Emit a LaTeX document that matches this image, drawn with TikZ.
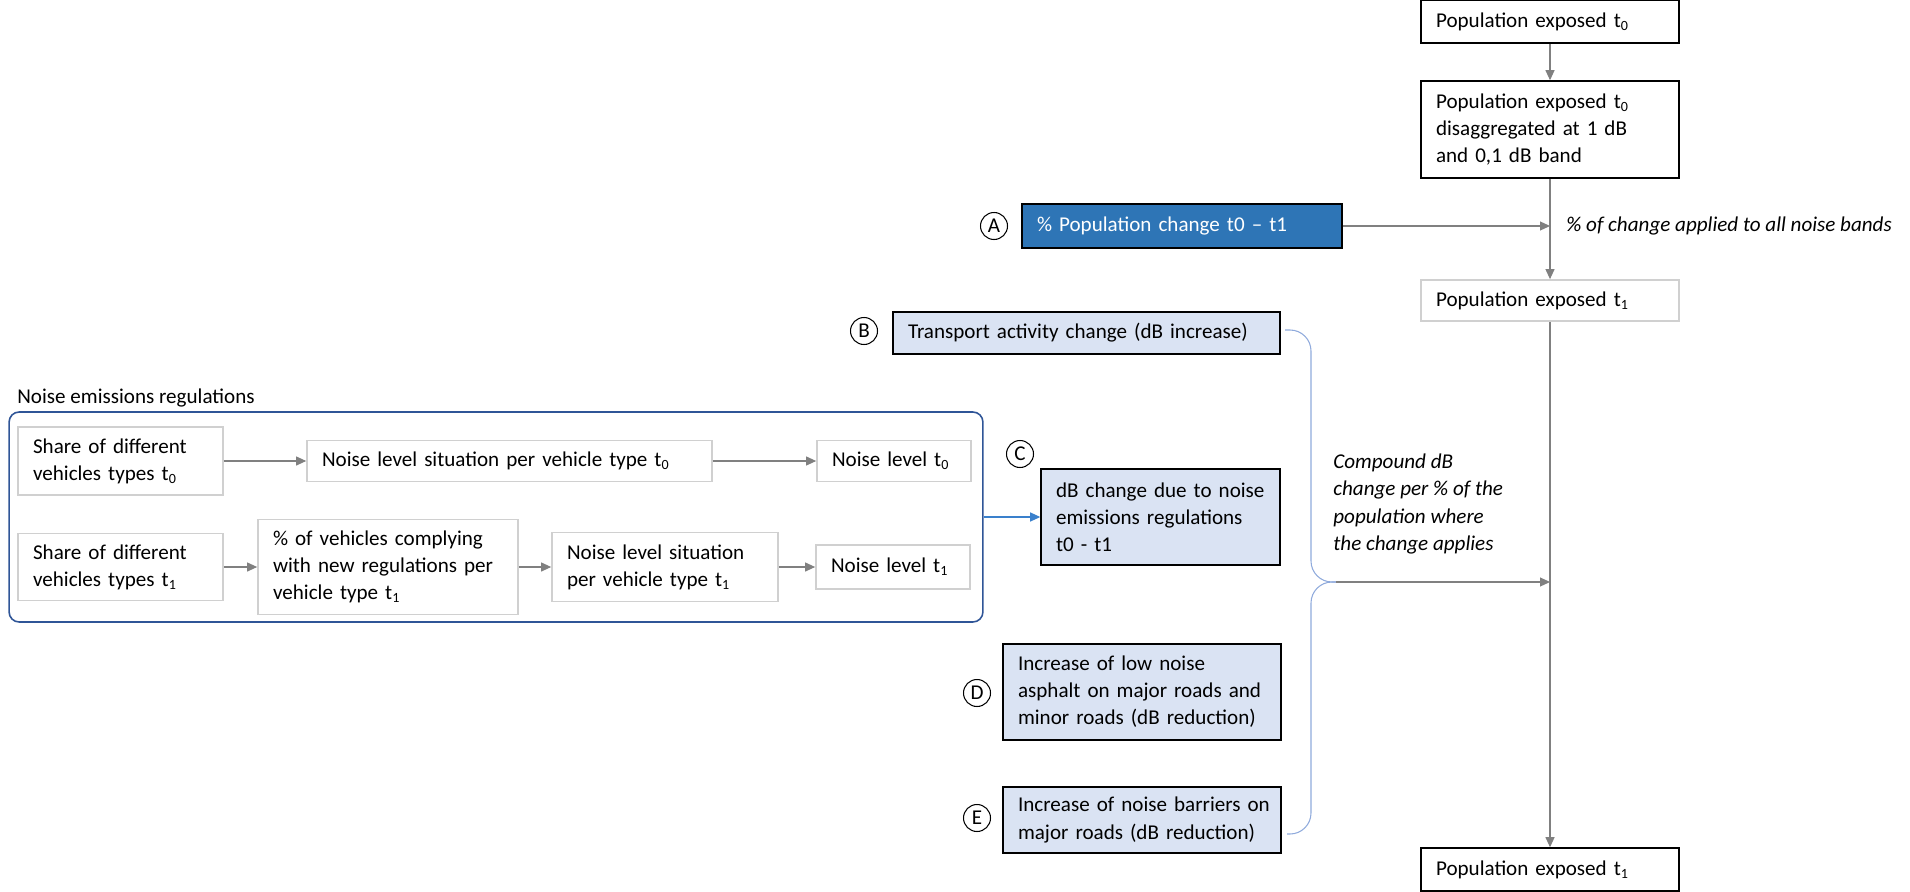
\documentclass[tikz,border=0pt]{standalone}
\usepackage{fontspec}
\setmainfont{Carlito}
\usepackage{tikz}
\usepackage{xcolor}
\usetikzlibrary{arrows.meta}

\definecolor{boxblue}{HTML}{2E75B6}
\definecolor{paleblue}{HTML}{DAE3F3}
\definecolor{frameblue}{HTML}{2F5597}
\definecolor{bracecol}{HTML}{8FAADC}
\definecolor{arrowgray}{HTML}{808080}
\definecolor{lightframe}{HTML}{D0D0D0}
\definecolor{linkblue}{HTML}{3A80CC}

\begin{document}
\begin{tikzpicture}[x=0.02cm, y=-0.02cm,
  every node/.style={font=\fontsize{12}{15.4}\selectfont},
  box/.style={draw, line width=0.9pt, align=left, inner xsep=0.3cm, inner ysep=0pt},
  greybox/.style={box, draw=lightframe, line width=1pt},
  inbox/.style={box, fill=paleblue},
  sz/.style n args={2}{text width=#1, minimum height=#2},
  letter/.style={draw, circle, line width=0.6pt, minimum size=0.54cm, inner sep=0pt},
  arr/.style={draw=arrowgray, line width=0.6pt, -{Triangle[length=0.2cm, width=0.18cm]}, arrowgray},
  link/.style={draw=linkblue, line width=0.6pt, -{Triangle[length=0.2cm, width=0.18cm]}, linkblue},
  brace/.style={draw=bracecol, line width=0.6pt, rounded corners=0.42cm},
  note/.style={anchor=west, align=left, inner sep=0pt, font=\fontsize{12}{15.4}\selectfont\itshape}]
  \useasboundingbox (0,0) rectangle (1910,892);

  % population column on the right
  \node[box, sz={4.56cm}{0.86cm}] (pop0) at (1550,21.5) {Population exposed t\textsubscript{0}};
  \node[box, sz={4.56cm}{1.94cm}] (pop0dis) at (1550,129.5) {Population exposed t\textsubscript{0}\\disaggregated at 1 dB\\and 0,1 dB band};
  \node[greybox, sz={4.56cm}{0.82cm}] (pop1) at (1550,300.5) {Population exposed t\textsubscript{1}};
  \node[box, sz={4.56cm}{0.86cm}] (pop1end) at (1550,869.5) {Population exposed t\textsubscript{1}};

  \coordinate (joinA) at (1550,226);
  \coordinate (joinB) at (1550,582);
  \draw[arr] (pop0) -- (pop0dis);
  \draw[arr] (pop0dis) -- (pop1);
  \draw[arr] (pop1) -- (pop1end);

  % A: population change
  \node[letter] (circA) at (994,226) {A};
  \node[box, fill=boxblue, text=white, sz={5.8cm}{0.88cm}] (popchange) at (1182,226) {\% Population change t0 -- t1};
  \draw[arr] (popchange) -- (joinA);
  \node[note] (noteA) at (1566,226) {\% of change applied to all noise bands};

  % B: transport activity
  \node[letter] (circB) at (864,331) {B};
  \node[inbox, sz={7.14cm}{0.84cm}] (transport) at (1086.5,333) {Transport activity change (dB increase)};

  % noise emissions regulations group
  \node[anchor=west, inner sep=0pt] (regslbl) at (17,398) {Noise emissions regulations};
  \node[draw=frameblue, line width=0.9pt, rounded corners=0.2cm, minimum width=19.48cm, minimum height=4.2cm, inner sep=0pt] (regs) at (496,517) {};

  \node[greybox, sz={3.5cm}{1.36cm}] (share0) at (120.5,461) {Share of different\\vehicles types t\textsubscript{0}};
  \node[greybox, sz={7.5cm}{0.82cm}] (situ0) at (509.5,461) {Noise level situation per vehicle type t\textsubscript{0}};
  \node[greybox, sz={2.48cm}{0.82cm}] (level0) at (894,461) {Noise level t\textsubscript{0}};

  \node[greybox, sz={3.5cm}{1.34cm}] (share1) at (120.5,567) {Share of different\\vehicles types t\textsubscript{1}};
  \node[greybox, sz={4.6cm}{1.9cm}] (comply1) at (388,567) {\% of vehicles complying\\with new regulations per\\vehicle type t\textsubscript{1}};
  \node[greybox, sz={3.92cm}{1.38cm}] (situ1) at (665,567) {Noise level situation\\per vehicle type t\textsubscript{1}};
  \node[greybox, sz={2.48cm}{0.88cm}] (level1) at (893,567) {Noise level t\textsubscript{1}};

  \draw[arr] (share0) -- (situ0);
  \draw[arr] (situ0) -- (level0);
  \draw[arr] (share1) -- (comply1);
  \draw[arr] (comply1) -- (situ1);
  \draw[arr] (situ1) -- (level1);

  % C: regulations result
  \node[letter] (circC) at (1020,454) {C};
  \node[inbox, sz={4.18cm}{1.92cm}] (regchange) at (1160.5,517) {dB change due to noise\\emissions regulations\\t0 - t1};
  \draw[link] (regs) -- (regchange);

  % D and E: road measures
  \node[letter] (circD) at (977,693) {D};
  \node[inbox, sz={4.96cm}{1.92cm}] (asphalt) at (1142,692) {Increase of low noise\\asphalt on major roads and\\minor roads (dB reduction)};
  \node[letter] (circE) at (977,818) {E};
  \node[inbox, sz={4.96cm}{1.32cm}] (barriers) at (1142,820) {\mbox{Increase of noise barriers on}\\major roads (dB reduction)};

  % brace collecting B to E
  \coordinate (braceTop) at (1285,330);
  \coordinate (braceTip) at (1336,582);
  \coordinate (braceBot) at (1287,834);
  \draw[brace] (braceTop) -- (1311,330) -- (1311,582) -- (braceTip);
  \draw[brace] (braceTip) -- (1311,582) -- (1311,834) -- (braceBot);
  \draw[arr] (braceTip) -- (joinB);
  \node[note] (noteB) at (1333,504) {Compound dB\\change per \% of the\\population where\\the change applies};
\end{tikzpicture}
\end{document}
